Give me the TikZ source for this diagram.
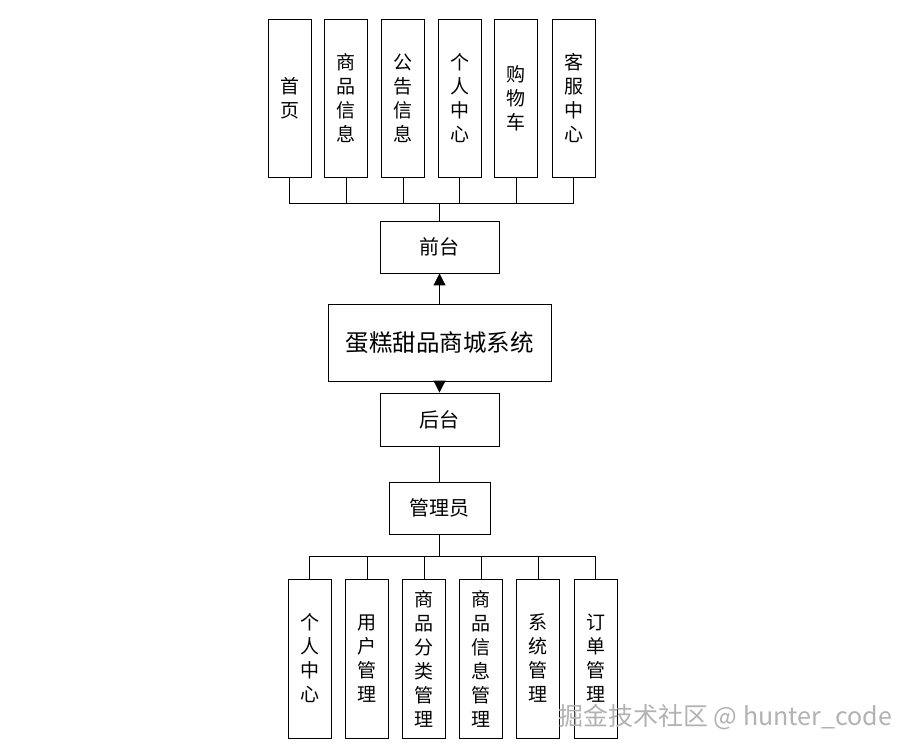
\documentclass[tikz,border=0pt]{standalone}
\usepackage{fontspec}
\setmainfont{Noto Sans CJK SC}
\usetikzlibrary{arrows.meta}

\begin{document}
\begin{tikzpicture}[x=1pt,y=1pt,
  vbox/.style={draw,line width=0.9pt,minimum width=43pt,minimum height=158pt,
    inner sep=0pt,align=center,font=\fontsize{19}{24}\selectfont},
  hbox/.style={draw,line width=0.9pt,inner sep=0pt,font=\fontsize{20}{24}\selectfont},
  link/.style={line width=1pt},
  uparrow/.style={line width=1pt,-{Triangle[length=12pt,width=12pt]}}]
\useasboundingbox (0,0) rectangle (917,-753);

% front-end pages
\node[vbox] (home) at (289.5,-98) {首\\页};
\node[vbox] (goods) at (346,-98) {商\\品\\信\\息};
\node[vbox] (notice) at (403,-98) {公\\告\\信\\息};
\node[vbox] (mine) at (459.5,-98) {个\\人\\中\\心};
\node[vbox] (cart) at (516,-98) {购\\物\\车};
\node[vbox] (service) at (573.5,-98) {客\\服\\中\\心};
\coordinate (topbus) at (439.5,-203);

% middle
\node[hbox,minimum width=119pt,minimum height=52pt] (front) at (439.5,-247) {前台};
\node[hbox,minimum width=223pt,minimum height=77pt,font=\fontsize{23.5}{24}\selectfont] (system) at (439.5,-342.5) {蛋糕甜品商城系统};
\node[hbox,minimum width=119pt,minimum height=53pt] (back) at (439.5,-419.5) {后台};
\node[hbox,minimum width=101pt,minimum height=52pt] (admin) at (439.5,-508) {管理员};
\coordinate (botbus) at (439.5,-556);

% back-end modules
\node[vbox,minimum height=159pt] (adminmine) at (309.5,-658.5) {个\\人\\中\\心};
\node[vbox,minimum height=159pt] (users) at (367,-658.5) {用\\户\\管\\理};
\node[vbox,minimum height=159pt] (category) at (424,-658.5) {商\\品\\分\\类\\管\\理};
\node[vbox,minimum height=159pt] (goodsinfo) at (481,-658.5) {商\\品\\信\\息\\管\\理};
\node[vbox,minimum height=159pt] (sysadmin) at (538,-658.5) {系\\统\\管\\理};
\node[vbox,minimum height=159pt] (orders) at (595.5,-658.5) {订\\单\\管\\理};

% connectors
\draw[link] (home.south) |- (topbus);
\draw[link] (goods.south) |- (topbus);
\draw[link] (notice.south) |- (topbus);
\draw[link] (mine.south) |- (topbus);
\draw[link] (cart.south) |- (topbus);
\draw[link] (service.south) |- (topbus);
\draw[link] (topbus) -- (front.north);

\draw[uparrow] (system.north) -- (front.south);
\draw[uparrow] (system.south) -- (back.north);
\draw[link] (back.south) -- (admin.north);

\draw[link] (admin.south) -- (botbus);
\draw[link] (botbus) -| (adminmine.north);
\draw[link] (botbus) -| (users.north);
\draw[link] (botbus) -| (category.north);
\draw[link] (botbus) -| (goodsinfo.north);
\draw[link] (botbus) -| (sysadmin.north);
\draw[link] (botbus) -| (orders.north);

% watermark
\node[text=gray!60,font=\fontsize{25}{26}\selectfont] (mark) at (725,-717) {掘金技术社区 @ hunter\_code};
\end{tikzpicture}
\end{document}
